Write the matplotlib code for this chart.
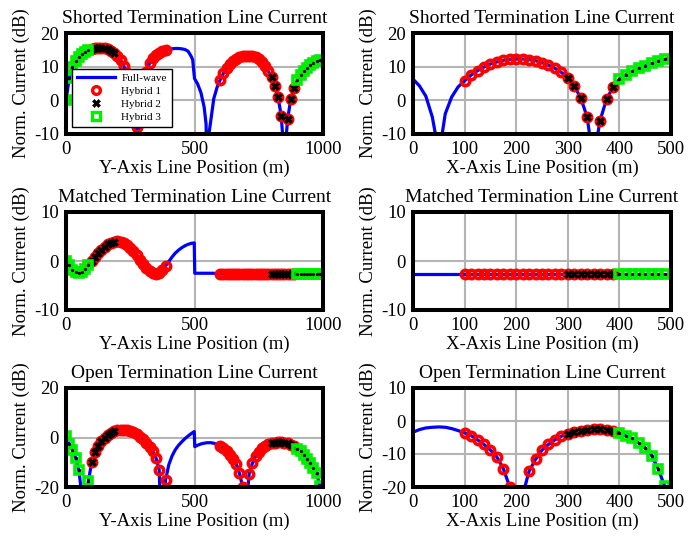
import numpy as np
import matplotlib
matplotlib.use("Agg")
import matplotlib.pyplot as plt
from matplotlib.lines import Line2D

plt.rcParams['font.family'] = ['Liberation Serif', 'DejaVu Serif']
plt.rcParams['font.size'] = 13.5
plt.rcParams['axes.unicode_minus'] = False

# ---------------- data (dB) ----------------
# Shorted termination, Y-axis line
sy_x = [0, 12.5, 25, 37.5, 50, 62.5, 75, 87.5, 100, 112.5, 125, 137.5, 150, 162.5, 175, 187.5,
        200, 212.5, 225, 237.5, 250, 262.5, 275, 280, 287.5, 300, 312.5, 325, 337.5, 350, 362.5,
        375, 387.5, 400, 412.5, 425, 437.5, 450, 462.5, 475, 487.5, 493, 500, 512.5, 525, 537.5,
        545, 550, 557, 562.5, 575, 587.5, 600, 612.5, 625, 637.5, 650, 662.5, 675, 687.5, 700,
        712.5, 725, 737.5, 750, 762.5, 775, 787.5, 800, 812.5, 825, 837.5, 843, 850, 857, 862.5,
        875, 887.5, 900, 912.5, 925, 937.5, 950, 962.5, 975, 987.5, 1000]
sy_y = [0.0, 6.5, 9.8, 11.8, 13.0, 13.9, 14.5, 15.0, 15.3, 15.5, 15.6, 15.6, 15.5, 15.2, 14.8, 14.2,
        13.3, 12.0, 10.2, 8.0, 5.0, 0.5, -8.0, -30.0, -6.0, 3.5, 8.5, 11.0, 12.5, 13.5, 14.2,
        14.6, 14.9, 15.1, 15.3, 15.4, 15.4, 15.3, 15.1, 14.6, 13.0, 12.0, 6.5, 4.8, 2.3, -2.0,
        -7.0, -30.0, -9.5, -6.5, 0.5, 3.8, 6.1, 8.0, 9.5, 10.7, 11.6, 12.3, 12.8, 13.1, 13.3,
        13.3, 13.1, 12.8, 12.3, 11.4, 10.2, 8.6, 6.9, 4.3, 1.0, -4.6, -10.5, -30.0, -10.5, -5.5,
        0.5, 3.8, 6.0, 7.5, 8.7, 9.6, 10.4, 11.0, 11.6, 12.0, 12.4]

# Shorted termination, X-axis line
sx_x = [0, 12.5, 25, 37.5, 44, 50, 56, 62.5, 75, 87.5, 100, 112.5, 125, 137.5, 150, 162.5, 175,
        187.5, 200, 212.5, 225, 237.5, 250, 262.5, 275, 287.5, 300, 312.5, 325, 337.5, 343, 350,
        357, 362.5, 375, 387.5, 400, 412.5, 425, 437.5, 450, 462.5, 475, 487.5, 500]
sx_y = [6.3, 4.3, 1.2, -5.0, -10.5, -30.0, -10.5, -4.0, 1.0, 4.0, 5.8, 7.5, 8.8, 9.9, 10.8, 11.4,
        11.9, 12.2, 12.3, 12.3, 12.1, 11.8, 11.2, 10.5, 9.5, 8.3, 6.7, 4.2, 0.8, -5.0, -11.0,
        -30.0, -11.0, -6.0, 0.3, 3.9, 6.3, 7.6, 8.6, 9.5, 10.3, 11.0, 11.6, 12.2, 12.5]

# Matched termination, Y-axis line
my_x = [0, 12.5, 25, 37.5, 50, 62.5, 75, 87.5, 100, 112.5, 125, 137.5, 150, 162.5, 175, 187.5,
        200, 212.5, 225, 237.5, 250, 262.5, 275, 287.5, 300, 312.5, 325, 337.5, 350, 362.5, 375,
        387.5, 400, 412.5, 425, 437.5, 450, 462.5, 475, 487.5, 499, 501, 512.5, 525, 537.5, 550,
        562.5, 575, 587.5, 600, 612.5, 625, 637.5, 650, 662.5, 675, 687.5, 700, 712.5, 725,
        737.5, 750, 762.5, 775, 787.5, 800, 812.5, 825, 837.5, 850, 862.5, 875, 887.5, 900,
        912.5, 925, 937.5, 950, 962.5, 975, 987.5, 1000]
my_y = [0.0, -0.9, -1.8, -2.3, -2.5, -2.3, -1.7, -0.9, 0.0, 0.8, 1.6, 2.3, 2.9, 3.4, 3.7, 3.9,
        4.0, 3.9, 3.7, 3.3, 2.7, 2.0, 1.2, 0.3, -0.6, -1.4, -2.0, -2.4, -2.6, -2.4, -1.8,
        -1.0, -0.1, 0.8, 1.6, 2.2, 2.7, 3.1, 3.4, 3.6, 3.7, -2.5, -2.5, -2.5, -2.5, -2.5,
        -2.5, -2.5, -2.6, -2.6, -2.6, -2.6, -2.6, -2.6, -2.6, -2.6, -2.6, -2.6, -2.6, -2.6,
        -2.6, -2.6, -2.6, -2.6, -2.6, -2.6, -2.6, -2.6, -2.6, -2.6, -2.6, -2.6, -2.6, -2.6,
        -2.6, -2.6, -2.6, -2.6, -2.6, -2.6, -2.6, -2.6]

# Matched termination, X-axis line
mx_x = [0, 12.5, 25, 37.5, 50, 62.5, 75, 87.5, 100, 112.5, 125, 137.5, 150, 162.5, 175, 187.5,
        200, 212.5, 225, 237.5, 250, 262.5, 275, 287.5, 300, 312.5, 325, 337.5, 350, 362.5, 375,
        387.5, 400, 412.5, 425, 437.5, 450, 462.5, 475, 487.5, 500]
mx_y = [-2.6, -2.6, -2.6, -2.6, -2.6, -2.6, -2.6, -2.6, -2.6, -2.6, -2.6, -2.6, -2.6, -2.6,
        -2.6, -2.6, -2.6, -2.6, -2.6, -2.6, -2.6, -2.6, -2.6, -2.6, -2.6, -2.6, -2.6, -2.6,
        -2.6, -2.6, -2.6, -2.6, -2.6, -2.6, -2.6, -2.6, -2.6, -2.6, -2.6, -2.6, -2.6]

# Open termination, Y-axis line
oy_x = [0, 12.5, 25, 37.5, 50, 62.5, 70, 75, 87.5, 100, 112.5, 125, 137.5, 150, 162.5, 175,
        187.5, 200, 212.5, 225, 237.5, 250, 262.5, 275, 287.5, 300, 312.5, 325, 337.5, 350,
        362.5, 370, 375, 387.5, 400, 412.5, 425, 437.5, 450, 462.5, 475, 487.5, 499, 501, 512.5,
        525, 537.5, 550, 562.5, 575, 587.5, 600, 612.5, 625, 637.5, 650, 662.5, 675, 687.5, 694,
        700, 712.5, 725, 737.5, 750, 762.5, 775, 787.5, 800, 812.5, 825, 837.5, 850, 862.5, 875,
        887.5, 900, 912.5, 925, 937.5, 950, 962.5, 975, 987.5, 1000]
oy_y = [0.5, -2.5, -5.0, -8.2, -13.2, -24.0, -40.0, -28.0, -17.4, -10.0, -6.0, -3.4, -1.5, -0.1,
        1.0, 1.9, 2.5, 2.9, 3.1, 3.2, 3.1, 2.8, 2.2, 1.4, 0.4, -0.8, -2.2, -3.8, -5.6, -8.2,
        -13.0, -35.0, -30.0, -17.2, -11.0, -7.5, -5.0, -3.2, -1.8, -0.5, 0.6, 1.6, 2.4, -3.7,
        -3.1, -2.6, -2.3, -2.1, -2.1, -2.3, -2.8, -3.4, -4.3, -5.5, -7.0, -8.7, -10.8, -14.5,
        -20.0, -35.0, -30.0, -14.7, -10.5, -7.6, -5.8, -4.4, -3.4, -2.8, -2.4, -2.1, -2.0, -2.0,
        -2.1, -2.4, -2.9, -3.6, -4.5, -5.6, -7.0, -8.6, -10.5, -12.3, -14.3, -19.6, -30.0]

# Open termination, X-axis line
ox_x = [0, 12.5, 25, 37.5, 50, 62.5, 75, 87.5, 100, 112.5, 125, 137.5, 150, 162.5, 175, 187.5,
        200, 212.5, 225, 237.5, 250, 262.5, 275, 287.5, 300, 312.5, 325, 337.5, 350, 362.5, 375,
        387.5, 400, 412.5, 425, 437.5, 450, 462.5, 475, 487.5, 500]
ox_y = [-3.4, -2.6, -2.1, -1.9, -1.8, -1.9, -2.3, -2.9, -3.6, -4.4, -5.7, -7.1, -8.8, -10.9,
        -14.4, -20.0, -40.0, -22.5, -15.2, -11.6, -8.8, -7.1, -5.7, -4.6, -3.9, -3.3, -2.9,
        -2.6, -2.5, -2.5, -2.7, -3.1, -3.6, -4.4, -5.3, -6.7, -8.1, -10.5, -14.4, -19.7, -35.0]

# hybrid-model sections (m) along each line, samples every 12.5 m
y_h1 = [(100, 387.5), (600, 887.5)]
y_h2 = [(100, 187.5), (800, 887.5)]
y_h3 = [(0, 87.5), (900, 987.5)]
x_h1 = [(100, 387.5)]
x_h2 = [(300, 387.5)]
x_h3 = [(400, 487.5)]

titles = ["Shorted Termination Line Current", "Matched Termination Line Current",
          "Open Termination Line Current"]
xlab_y = "Y-Axis Line Position (m)"
xlab_x = "X-Axis Line Position (m)"
ylab = "Norm. Current (dB)"

W, H = 689, 540
fig = plt.figure(figsize=(W / 100, H / 100), dpi=100)

RED = '#ff0000'
GREEN = '#00ee00'
BLUE = '#0000ff'

def rect(l, t, r, b):
    return [l / W, 1 - b / H, (r - l) / W, (b - t) / H]

def sel(x, y, ranges):
    x = np.asarray(x, float); y = np.asarray(y, float)
    g = np.isclose(np.mod(x, 12.5), 0)
    m = np.zeros_like(g)
    for lo, hi in ranges:
        m |= (x >= lo - 1e-6) & (x <= hi + 1e-6)
    m &= g
    return x[m], y[m]

def panel(r, x, y, xlim, xticks, ylim, yticks, title, xlabel, h1, h2, h3):
    ax = fig.add_axes(rect(*r))
    ax.plot(x, y, color=BLUE, lw=2.3, zorder=2)
    a, b = sel(x, y, h1)
    ax.plot(a, b, 'o', ls='none', mfc='none', mec=RED, ms=6.0, mew=2.6, zorder=3)
    a, b = sel(x, y, h2)
    ax.plot(a, b, 'X', ls='none', mfc='black', mec='black', ms=5.2, mew=0.4, zorder=4)
    a, b = sel(x, y, h3)
    ax.plot(a, b, 's', ls='none', mfc='none', mec=GREEN, ms=5.5, mew=2.6, zorder=4)
    ax.plot(a, b, '.', ls='none', color='black', ms=2.6, zorder=5)
    ax.set_xlim(*xlim); ax.set_ylim(*ylim)
    ax.set_xticks(xticks); ax.set_yticks(yticks)
    ax.grid(True, color='#b4b4b4', lw=1.5)
    ax.set_axisbelow(True)
    for s in ax.spines.values():
        s.set_linewidth(2.9); s.set_zorder(6)
    ax.tick_params(direction='in', length=0, pad=5)
    ax.set_title(title, pad=7, fontsize=14)
    ax.set_xlabel(xlabel, labelpad=1)
    ax.set_ylabel(ylab, labelpad=3)
    return ax

yt = [0, 500, 1000]
xt = [0, 100, 200, 300, 400, 500]
ax1 = panel((66, 33, 323, 134), sy_x, sy_y, (0, 1000), yt, (-10, 20), [-10, 0, 10, 20],
            titles[0], xlab_y, y_h1, y_h2, y_h3)
panel((413, 33, 671, 134), sx_x, sx_y, (0, 500), xt, (-10, 20), [-10, 0, 10, 20],
      titles[0], xlab_x, x_h1, x_h2, x_h3)
panel((66, 212, 323, 310), my_x, my_y, (0, 1000), yt, (-10, 10), [-10, 0, 10],
      titles[1], xlab_y, y_h1, y_h2, y_h3)
panel((413, 212, 671, 310), mx_x, mx_y, (0, 500), xt, (-10, 10), [-10, 0, 10],
      titles[1], xlab_x, x_h1, x_h2, x_h3)
panel((66, 388, 323, 487), oy_x, oy_y, (0, 1000), yt, (-20, 20), [-20, 0, 20],
      titles[2], xlab_y, y_h1, y_h2, y_h3)
panel((413, 388, 671, 487), ox_x, ox_y, (0, 500), xt, (-20, 10), [-20, -10, 0, 10],
      titles[2], xlab_x, x_h1, x_h2, x_h3)

handles = [Line2D([], [], color=BLUE, lw=2.3),
           Line2D([], [], marker='o', ls='none', mfc='none', mec=RED, ms=5.6, mew=2.4),
           Line2D([], [], marker='X', ls='none', mfc='black', mec='black', ms=5.5, mew=0.4),
           Line2D([], [], marker='s', ls='none', mfc='none', mec=GREEN, ms=5.2, mew=2.4)]
leg = ax1.legend(handles, ['Full-wave', 'Hybrid 1', 'Hybrid 2', 'Hybrid 3'],
                 loc='lower left', bbox_to_anchor=(0.023, 0.069), fontsize=8,
                 handlelength=3.4, handletextpad=0.6, labelspacing=0.28, borderpad=0.45,
                 borderaxespad=0, fancybox=False, framealpha=1, edgecolor='black')
leg.get_frame().set_linewidth(1.0)
leg.set_zorder(10)

fig.savefig("out.png", dpi=100)
